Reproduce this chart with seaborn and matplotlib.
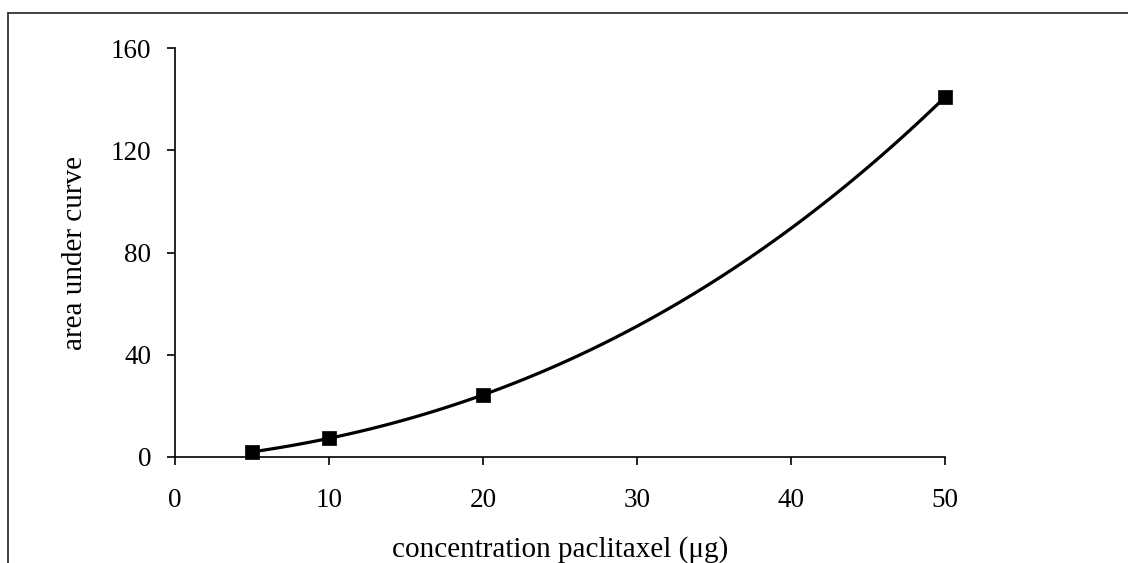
import matplotlib
matplotlib.use("Agg")
import matplotlib.pyplot as plt
from matplotlib.lines import Line2D
import seaborn as sns
import pandas as pd

# Data
concentration = [5, 10, 20, 50]
auc = [2.0, 7.3, 24.3, 140.8]
x_ticks = [0, 10, 20, 30, 40, 50]
y_ticks = [0, 40, 80, 120, 160]

df = pd.DataFrame({"concentration": concentration, "auc": auc})

sns.set_theme(style="ticks")
plt.rcParams["font.family"] = ["Liberation Serif", "DejaVu Serif"]

fig = plt.figure(figsize=(11.28, 5.63), dpi=100)
ax = fig.add_axes([0.1551, 0.1883, 0.6827, 0.7264])

# smooth trend curve through the points (cubic fit)
sns.regplot(data=df, x="concentration", y="auc", order=3, ci=None,
            scatter=False, truncate=True, ax=ax,
            line_kws={"color": "black", "linewidth": 2.3, "clip_on": False})
sns.scatterplot(data=df, x="concentration", y="auc", marker="s", s=95,
                color="black", edgecolor="black", linewidth=0.5, ax=ax,
                zorder=5, clip_on=False)

ax.set_xlim(0, 50)
ax.set_ylim(0, 160)
ax.set_xticks(x_ticks)
ax.set_yticks(y_ticks)
ax.tick_params(axis="x", direction="out", length=6, width=1.2, pad=16,
               labelsize=19.5, colors="black")
ax.tick_params(axis="y", direction="out", length=6, width=1.2, pad=11,
               labelsize=19.5, colors="black")
for s in ["top", "right"]:
    ax.spines[s].set_visible(False)
for s in ["left", "bottom"]:
    ax.spines[s].set_color("black")
    ax.spines[s].set_linewidth(1.2)
ax.spines["left"].set_zorder(6)

ax.set_xlabel("concentration paclitaxel (μg)", fontsize=21, color="black", labelpad=17)
ax.set_ylabel("area under curve", fontsize=21, color="black", labelpad=16)

# frame around the figure (left and top edges visible)
fig.add_artist(Line2D([8 / 1128, 8 / 1128], [0, 1 - 13 / 563],
                      transform=fig.transFigure, color="#333333", linewidth=1.3))
fig.add_artist(Line2D([8 / 1128, 1], [1 - 13 / 563, 1 - 13 / 563],
                      transform=fig.transFigure, color="#333333", linewidth=1.3))

fig.savefig("out.png", dpi=100, facecolor="white")
